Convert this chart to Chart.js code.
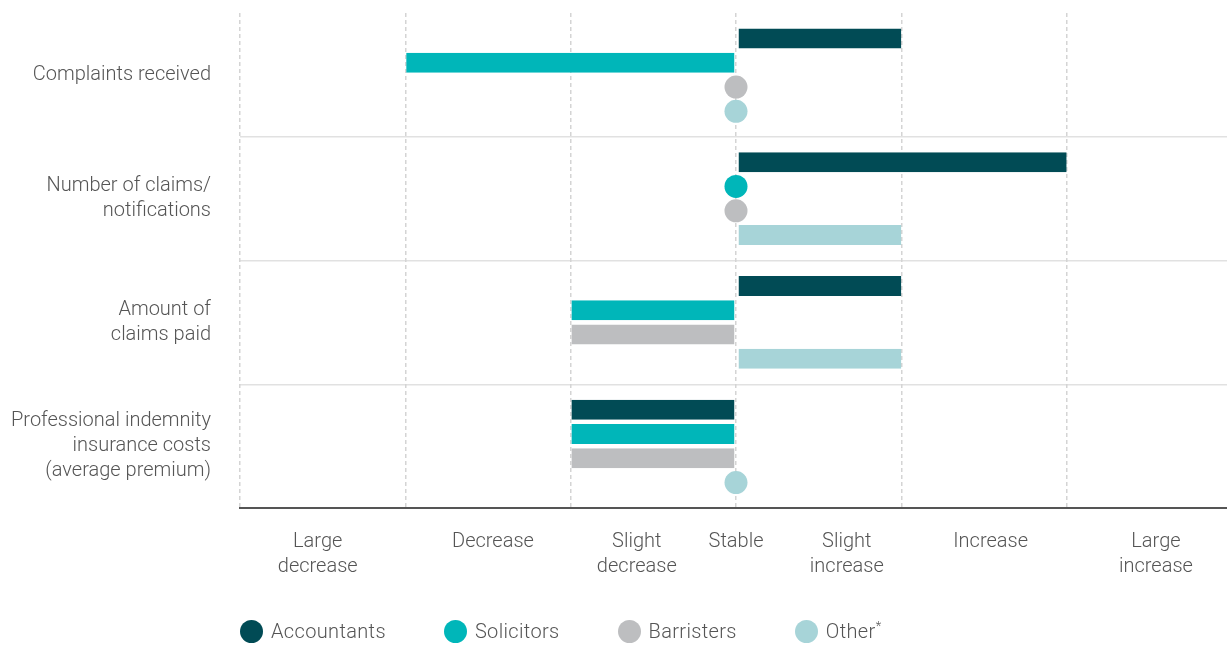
<!DOCTYPE html>
<html>
<head>
<meta charset="utf-8">
<script src="https://cdn.jsdelivr.net/npm/chart.js@4.4.1/dist/chart.umd.min.js"></script>
<style>
  html, body { margin: 0; padding: 0; background: #fff; overflow: hidden; }
  #wrap { position: relative; width: 1227px; height: 652px; overflow: hidden; }
  #chart { position: absolute; left: 0; top: 0; }
  #legend {
    position: absolute; left: 240px; top: 619px; height: 24px;
    display: flex; align-items: center;
    font-family: Roboto, sans-serif; font-weight: 300; font-size: 20px; color: #555;
    letter-spacing: 0.35px;
  }
  #legend .item { display: flex; align-items: center; margin-right: 58px; white-space: nowrap; }
  #legend .dot { width: 23px; height: 23px; border-radius: 50%; margin-right: 8px; }
  #legend sup { font-size: 13px; line-height: 0; }
</style>
</head>
<body>
<div id="wrap">
  <canvas id="chart" width="1232" height="652"></canvas>
  <div id="legend"></div>
</div>
<script>
// -3 = large decrease ... 0 = stable ... +3 = large increase
const categories = [
  'Complaints received',
  ['Number of claims/', 'notifications'],
  ['Amount of', 'claims paid'],
  ['Professional indemnity', 'insurance costs', '(average premium)']
]
const seriesNames = ['Accountants', 'Solicitors', 'Barristers', 'Other']
const accountants = [1, 2, 1, -1]
const solicitors = [-2, 0, -1, -1]
const barristers = [0, 0, -1, -1]
const other = [0, 1, 1, 0]
const seriesColors = ['#014b55', '#00b6b9', '#bdbec0', '#a7d4d8']

const gridTicks = [-3, -2, -1, 0, 1, 2, 3]
const tickLabels = [['Large', 'decrease'], 'Decrease', ['Slight', 'decrease'], 'Stable', ['Slight', 'increase'], 'Increase', ['Large', 'increase']]
const tickLabelAt = [-2.53, -1.47, -0.6, 0, 0.67, 1.54, 2.54]

const labelFont = { family: 'Roboto', size: 20, weight: 300, lineHeight: 1.25 }

// zero ("stable") answers are shown as a dot sitting on the zero line
const stableDots = {
  id: 'stableDots',
  afterDatasetsDraw(chart) {
    const ctx = chart.ctx
    chart.data.datasets.forEach((ds, i) => {
      const meta = chart.getDatasetMeta(i)
      meta.data.forEach((bar, j) => {
        if (ds.data[j] !== 0) return
        ctx.save()
        ctx.fillStyle = ds.backgroundColor
        ctx.beginPath()
        ctx.arc(bar.x, bar.y, bar.height / 2 + 1.5, 0, Math.PI * 2)
        ctx.fill()
        ctx.restore()
      })
    })
  }
}

// keep the axes from pushing the plot area around
const noPad = (s) => {
  s.paddingTop = 0
  s.paddingBottom = 0
  s.paddingLeft = 0
  s.paddingRight = 0
}

const allSeries = [accountants, solicitors, barristers, other]

new Chart(document.getElementById('chart'), {
  type: 'bar',
  data: {
    labels: categories,
    datasets: allSeries.map((vals, i) => ({
      label: seriesNames[i],
      data: vals,
      backgroundColor: seriesColors[i],
      borderColor: 'rgba(0,0,0,0)',
      borderSkipped: false,
      // small gap between the bar and the zero line
      borderWidth: (c) => c.raw > 0 ? { left: 2 } : c.raw < 0 ? { left: 1, right: 1 } : 0
    }))
  },
  options: {
    indexAxis: 'y',
    responsive: false,
    animation: false,
    layout: { padding: { top: 13, left: 0, right: 0, bottom: 0 } },
    datasets: { bar: { categoryPercentage: 0.786, barPercentage: 0.823 } },
    plugins: { legend: { display: false }, tooltip: { enabled: false } },
    scales: {
      y: {
        afterFit: (s) => { s.width = 240; noPad(s) },
        border: { display: false },
        grid: {
          drawTicks: false,
          lineWidth: 1.5,
          color: (c) => c.index > 0 ? '#e1e1e1' : 'rgba(0,0,0,0)'
        },
        ticks: { padding: 29, color: '#555', font: labelFont }
      },
      x: {
        min: -3,
        max: 3,
        weight: 0,
        afterBuildTicks: (s) => { s.ticks = gridTicks.map(v => ({ value: v })) },
        afterFit: (s) => { s.height = 0; noPad(s) },
        border: { display: true, color: '#555', width: 2, dash: [4, 3] },
        grid: { drawTicks: false, color: '#d4d4d4', lineWidth: 1.5 },
        ticks: { display: false }
      },
      xLabels: {
        type: 'linear',
        position: 'bottom',
        min: -3,
        max: 3,
        weight: 1,
        afterBuildTicks: (s) => { s.ticks = tickLabelAt.map(v => ({ value: v })) },
        afterFit: (s) => { s.height = 144; noPad(s) },
        border: { display: false },
        grid: { display: false, drawTicks: false },
        ticks: {
          padding: 21,
          autoSkip: false,
          maxRotation: 0,
          color: '#555',
          font: labelFont,
          callback: (v, i) => tickLabels[i]
        }
      }
    }
  },
  plugins: [stableDots]
})

// legend
const legend = document.getElementById('legend')
seriesNames.forEach((name, i) => {
  const item = document.createElement('div')
  item.className = 'item'
  const dot = document.createElement('span')
  dot.className = 'dot'
  dot.style.background = seriesColors[i]
  const txt = document.createElement('span')
  txt.textContent = name
  if (name === 'Other') {
    const sup = document.createElement('sup')
    sup.textContent = '*'
    txt.appendChild(sup)
  }
  item.appendChild(dot)
  item.appendChild(txt)
  legend.appendChild(item)
})
</script>
</body>
</html>
